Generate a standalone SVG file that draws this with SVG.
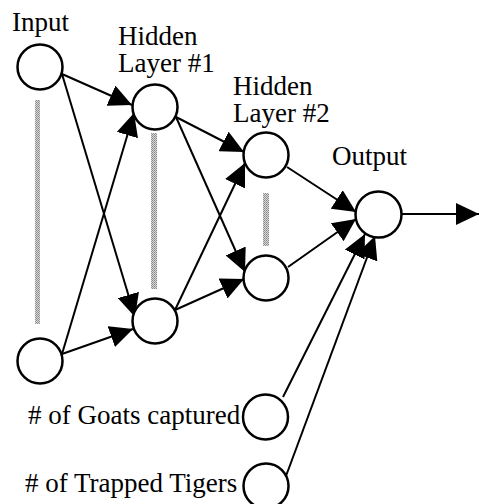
<svg xmlns="http://www.w3.org/2000/svg" width="479" height="504" viewBox="0 0 479 504">
<defs>
<style>
.node{fill:#fff;stroke:#000;stroke-width:2.5}
.lbl{font-family:"Liberation Serif","Times New Roman",serif;font-size:27px;fill:#000}
.edge{stroke:#000;stroke-width:2;fill:none;marker-end:url(#ah)}
.bar{fill:url(#dots);stroke:none}
</style>
<marker id="ah" markerUnits="userSpaceOnUse" markerWidth="24" markerHeight="22" viewBox="0 0 24 22" refX="23" refY="11" orient="auto">
<path d="M0,0 L23,11 L0,22 z" fill="#000"/>
</marker>
<pattern id="dots" width="2" height="2" patternUnits="userSpaceOnUse">
<rect width="2" height="2" fill="#d8d8d8"/>
<rect width="1" height="1" fill="#888"/>
<rect x="1" y="1" width="1" height="1" fill="#999"/>
</pattern>
</defs>
<g id="bars">
<rect class="bar" x="35" y="100" width="5" height="224"/>
<rect class="bar" x="151" y="133" width="6" height="156"/>
<rect class="bar" x="263" y="193" width="6" height="53"/>
</g>
<g id="connectors">
<line class="edge" x1="62" y1="74" x2="132" y2="105"/>
<line class="edge" x1="62" y1="74" x2="135" y2="317"/>
<line class="edge" x1="62" y1="354" x2="134" y2="113"/>
<line class="edge" x1="62" y1="354" x2="133" y2="329"/>
<line class="edge" x1="176" y1="117" x2="244" y2="152"/>
<line class="edge" x1="176" y1="117" x2="245" y2="272"/>
<line class="edge" x1="175" y1="310" x2="245" y2="163"/>
<line class="edge" x1="175" y1="310" x2="244" y2="279"/>
<line class="edge" x1="287" y1="167" x2="356" y2="212"/>
<line class="edge" x1="288" y1="267" x2="356" y2="219"/>
<line class="edge" x1="283" y1="397" x2="365" y2="234"/>
<line class="edge" x1="286" y1="476" x2="375" y2="236"/>
<line class="edge" x1="402" y1="214" x2="479" y2="214"/>
</g>
<g id="input1"><circle class="node" cx="40" cy="67" r="22.5"/><text class="lbl" x="12" y="31">Input</text></g>
<g id="input2"><circle class="node" cx="40" cy="361" r="22.5"/></g>
<g id="hidden1a"><circle class="node" cx="155" cy="107" r="22.5"/><text class="lbl" x="118" y="45">Hidden</text><text class="lbl" x="118" y="72">Layer #1</text></g>
<g id="hidden1b"><circle class="node" cx="155" cy="321" r="22.5"/></g>
<g id="hidden2a"><circle class="node" cx="266" cy="155" r="22.5"/><text class="lbl" x="233" y="95">Hidden</text><text class="lbl" x="233" y="122">Layer #2</text></g>
<g id="hidden2b"><circle class="node" cx="266" cy="278" r="22.5"/></g>
<g id="output"><circle class="node" cx="378.5" cy="214.5" r="23"/><text class="lbl" x="332" y="165">Output</text></g>
<g id="goats"><circle class="node" cx="265.5" cy="417" r="22.5"/><text class="lbl" x="28" y="424"># of Goats captured</text></g>
<g id="tigers"><circle class="node" cx="266" cy="486" r="22.5"/><text class="lbl" x="25" y="492"># of Trapped Tigers</text></g>
</svg>
